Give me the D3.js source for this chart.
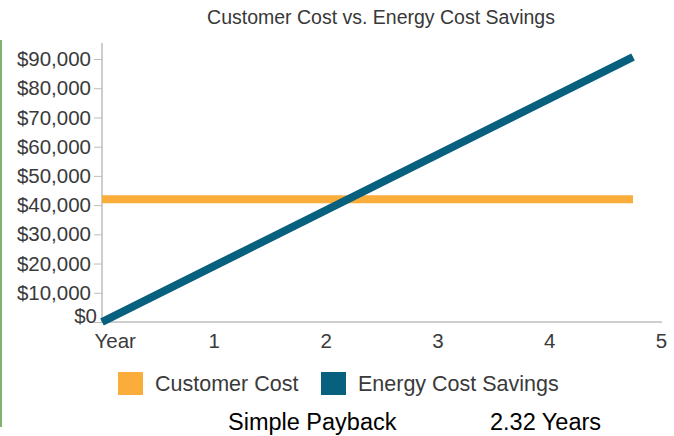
<!DOCTYPE html>
<html>
<head>
<meta charset="utf-8">
<script src="https://cdn.jsdelivr.net/npm/d3@7"></script>
<style>
  body { margin: 0; background: #fff; }
  svg text { font-family: "Liberation Sans", Arial, sans-serif; }
</style>
</head>
<body>
<svg id="chart" width="674" height="436"></svg>
<script>
// data
let years = [0, 4.75]
let customerCost = [42000, 42000]
let energySavings = [0, 90700]
let yTicks = [0, 10000, 20000, 30000, 40000, 50000, 60000, 70000, 80000, 90000]
let xTicks = [0, 1, 2, 3, 4, 5]
let xTickLabels = ["Year", "1", "2", "3", "4", "5"]
let seriesNames = ["Customer Cost", "Energy Cost Savings"]
let seriesColors = ["#fbad3b", "#08607f"]
let paybackLabel = "Simple Payback"
let paybackValue = "2.32 Years"

let svg = d3.select("#chart")

let xScale = d3.scaleLinear().domain([0, 5]).range([102, 661])
let yScale = d3.scaleLinear().domain([0, 90000]).range([322, 59])

// left green border
svg.append("line")
    .attr("x1", 1).attr("x2", 1)
    .attr("y1", 40).attr("y2", 427)
    .attr("stroke", "#7fb26c")
    .attr("stroke-width", 2)

// title
svg.append("text")
    .attr("x", 381)
    .attr("y", 24)
    .attr("text-anchor", "middle")
    .attr("font-size", "19.5px")
    .attr("fill", "#383838")
    .text("Customer Cost vs. Energy Cost Savings")

// y axis
let yAxis = d3.axisLeft(yScale)
    .tickValues(yTicks)
    .tickSize(8)
    .tickPadding(3)
    .tickFormat(d => "$" + d3.format(",")(d))

let yG = svg.append("g")
    .attr("transform", "translate(102,0)")
    .call(yAxis)
yG.select(".domain").remove()
yG.selectAll(".tick line").attr("stroke", "#bdbdbd")
yG.selectAll(".tick text")
    .attr("font-size", "20.5px")
    .attr("font-family", "Liberation Sans, Arial, sans-serif")
    .attr("fill", "#3a3a3a")
// the $0 label sits a bit higher and to the right
yG.selectAll(".tick text").filter(d => d === 0)
    .attr("dx", 6).attr("dy", "0.02em")

svg.append("line")
    .attr("x1", xScale(0)).attr("x2", xScale(0))
    .attr("y1", yScale(0)).attr("y2", yScale(90000) - 16)
    .attr("stroke", "#bdbdbd")
    .attr("stroke-width", 1.5)

// x axis
let xAxis = d3.axisBottom(xScale)
    .tickValues(xTicks)
    .tickSize(0)
    .tickPadding(11)
    .tickFormat((d, i) => xTickLabels[i])

let xG = svg.append("g")
    .attr("transform", `translate(0, ${yScale(0)})`)
    .call(xAxis)
xG.select(".domain").remove()
xG.selectAll(".tick text")
    .attr("font-size", "20.5px")
    .attr("font-family", "Liberation Sans, Arial, sans-serif")
    .attr("fill", "#3a3a3a")
xG.selectAll(".tick text").filter(d => d === 0)
    .attr("text-anchor", "start")
    .attr("dx", -8)

svg.append("line")
    .attr("x1", xScale(0)).attr("x2", xScale(5) + 1)
    .attr("y1", yScale(0)).attr("y2", yScale(0))
    .attr("stroke", "#bdbdbd")
    .attr("stroke-width", 1.5)

// lines
let line = d3.line()
    .x(d => xScale(d[0]))
    .y(d => yScale(d[1]))

let series = [customerCost, energySavings]
series.forEach(function(vals, i){
    svg.append("path")
        .datum(years.map((y, j) => [y, vals[j]]))
        .attr("d", line)
        .attr("fill", "none")
        .attr("stroke", seriesColors[i])
        .attr("stroke-width", 8)
})

// legend
let legendX = [118, 321]
seriesNames.forEach(function(name, i){
    svg.append("rect")
        .attr("x", legendX[i])
        .attr("y", 372)
        .attr("width", 25)
        .attr("height", 23)
        .attr("fill", seriesColors[i])
    svg.append("text")
        .attr("x", legendX[i] + 37)
        .attr("y", 391)
        .attr("font-size", "21.5px")
        .attr("fill", "#3a3a3a")
        .text(name)
})

// payback line
svg.append("text")
    .attr("x", 228)
    .attr("y", 430)
    .attr("font-size", "23.5px")
    .attr("fill", "#000")
    .text(paybackLabel)
svg.append("text")
    .attr("x", 490)
    .attr("y", 430)
    .attr("font-size", "23.5px")
    .attr("fill", "#000")
    .text(paybackValue)
</script>
</body>
</html>
